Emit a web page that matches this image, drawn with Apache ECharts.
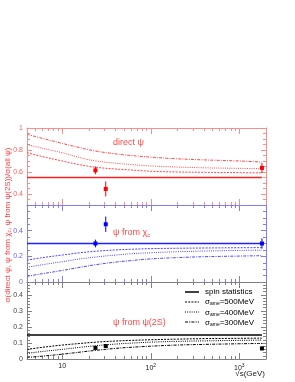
<!DOCTYPE html>
<html><head><meta charset="utf-8">
<script src="https://cdn.jsdelivr.net/npm/echarts@6/dist/echarts.min.js"></script>
<style>html,body{margin:0;padding:0;background:#fff}#c{width:295px;height:382px}</style>
</head><body><div id="c"></div>
<script>
// ---- data ----
const energies = [4, 6, 10, 16, 24, 40, 60, 100, 200, 400, 1000, 1800];
const direct500 = [0.775, 0.74, 0.70, 0.665, 0.643, 0.627, 0.618, 0.607, 0.60, 0.597, 0.594, 0.592];
const direct400 = [0.85, 0.815, 0.775, 0.73, 0.70, 0.68, 0.668, 0.655, 0.645, 0.638, 0.633, 0.63];
const direct300 = [0.943, 0.905, 0.86, 0.82, 0.79, 0.765, 0.75, 0.735, 0.72, 0.71, 0.70, 0.69];
const chic500 = [0.17, 0.19, 0.21, 0.228, 0.24, 0.25, 0.255, 0.26, 0.263, 0.265, 0.267, 0.268];
const chic400 = [0.115, 0.135, 0.158, 0.18, 0.195, 0.21, 0.22, 0.228, 0.236, 0.241, 0.246, 0.248];
const chic300 = [0.045, 0.065, 0.09, 0.115, 0.135, 0.155, 0.167, 0.18, 0.19, 0.197, 0.202, 0.205];
const psi2s500 = [0.06, 0.073, 0.087, 0.097, 0.105, 0.112, 0.116, 0.12, 0.124, 0.127, 0.129, 0.13];
const psi2s400 = [0.035, 0.047, 0.06, 0.073, 0.083, 0.093, 0.099, 0.105, 0.11, 0.113, 0.116, 0.118];
const psi2s300 = [0.01, 0.018, 0.03, 0.043, 0.054, 0.066, 0.073, 0.08, 0.087, 0.091, 0.095, 0.097];
const spinRange = [4, 1800];
const spinDirect = 0.55, spinChic = 0.30, spinPsi2s = 0.15;
const dataEnergy = [23.7, 31, 1800];
const directPts = [0.615, 0.446, 0.637];
const directErr = [0.035, 0.068, 0.045];
const chicPts = [0.30, 0.45, 0.30];
const chicErr = [0.03, 0.06, 0.04];
const psi2sPts = [0.069, 0.081, 0.066];
const psi2sErr = [0.01, 0.01, 0.012];
const xMajor = [10, 100, 1000];
const xMinor = [5,6,7,8,9,20,30,40,50,60,70,80,90,200,300,400,500,600,700,800,900];
const legendNames = ['spin statistics', 'σame=500MeV', 'σame=400MeV', 'σame=300MeV'];

// ---- layout ----
const FONT = 'Liberation Sans, Arial, sans-serif';
const panels = [
  {top:128, min:0.3, max:1.0, step:0.05, labelStep:0.2, showMax:true,
   axisColor:'#ff8c8c', labelColor:'#ff5c5c', lineColor:'#ff2020', curveColor:'#ff4848', ptColor:'#ff0000',
   spin:spinDirect, c:[direct500,direct400,direct300], pts:directPts, err:directErr, tag:'direct'},
  {top:205, min:0, max:0.6, step:0.05, labelStep:0.2, showMax:false,
   axisColor:'#7c7cff', labelColor:'#5c5cff', lineColor:'#2020ff', curveColor:'#4848ff', ptColor:'#0000ff',
   spin:spinChic, c:[chic500,chic400,chic300], pts:chicPts, err:chicErr, tag:'chic'},
  {top:282, min:0, max:0.48, step:0.02, labelStep:0.1, showMax:false,
   axisColor:'#808080', labelColor:'#444', lineColor:'#000', curveColor:'#000', ptColor:'#000',
   spin:spinPsi2s, c:[psi2s500,psi2s400,psi2s300], pts:psi2sPts, err:psi2sErr, tag:'psi2s'}
];
const dashTypes = [[2,1.2],[1,1.2],[3,1.2,1,1.2]];

const grid = [], xAxis = [], yAxis = [], series = [];
panels.forEach((p, gi) => {
  grid.push({left:27, right:29, top:p.top, height:77, containLabel:false});
  const xBase = xAxis.length;
  ['bottom','top'].forEach(pos => {
    [['minor', xMinor, 3], ['major', xMajor, 6]].forEach(([kind, vals, len]) => {
      const lab = gi === 2 && pos === 'bottom' && kind === 'major';
      xAxis.push({
        type:'log', logBase:10, gridIndex:gi, position:pos, min:4, max:2000,
        axisLine:{show:kind==='major', onZero:false, lineStyle:{color:p.axisColor, width:1}},
        axisTick:{show:true, inside:true, length:len, customValues:vals, lineStyle:{color:p.axisColor, width:1}},
        axisLabel:{show:lab, customValues:xMajor, fontSize:7, color:'#222', fontFamily:FONT, margin:4,
          formatter: v => { const e = Math.round(Math.log10(v)); return e === 1 ? '10' : '10{s|' + e + '}'; },
          rich:{s:{fontSize:5, color:'#222', fontFamily:FONT, padding:[0,0,5,0]}}},
        splitLine:{show:false}, minorTick:{show:false}, minorSplitLine:{show:false}
      });
    });
  });
  const yBase = yAxis.length;
  const majors = [];
  for (let v = p.min; v <= p.max + 1e-9; v += p.step) {
    const r = Math.round(v * 1000) / 1000;
    if (Math.abs(r / p.labelStep - Math.round(r / p.labelStep)) < 1e-6 && (p.showMax || Math.abs(r - p.max) > 1e-6)) majors.push(r);
  }
  ['left','right'].forEach(pos => {
    yAxis.push({
      type:'value', gridIndex:gi, position:pos, min:p.min, max:p.max, interval:p.step,
      axisLine:{show:true, onZero:false, lineStyle:{color:p.axisColor, width:1}},
      axisTick:{show:true, inside:true, length:3, lineStyle:{color:p.axisColor}},
      axisLabel:{show:false}, splitLine:{show:false}
    });
    yAxis.push({
      type:'value', gridIndex:gi, position:pos, min:p.min, max:p.max,
      axisLine:{show:false, onZero:false},
      axisTick:{show:true, inside:true, length:5, customValues:majors, lineStyle:{color:p.axisColor}},
      axisLabel:{show:pos==='left', customValues:majors, fontSize:7, color:p.labelColor, fontFamily:FONT, margin:4,
        formatter: v => String(parseFloat((+v).toFixed(3)))},
      splitLine:{show:false}
    });
  });
  const xi = xBase, yi = yBase;
  const isLeg = gi === 2;
  series.push({
    type:'line', name: isLeg ? legendNames[0] : 'spin ' + p.tag, xAxisIndex:xi, yAxisIndex:yi,
    data: spinRange.map(x => [x, p.spin]), symbol:'none', silent:true,
    lineStyle:{color:p.lineColor, width:1.5}, itemStyle:{color:p.lineColor}, z:3
  });
  p.c.forEach((arr, k) => {
    series.push({
      type:'line', name: isLeg ? legendNames[k+1] : p.tag + k, xAxisIndex:xi, yAxisIndex:yi,
      data: energies.map((e, j) => [e, arr[j]]), symbol:'none', smooth:0.4, silent:true,
      lineStyle:{color:p.curveColor, width:1, type:dashTypes[k]}, itemStyle:{color:p.curveColor}, z:2
    });
  });
  series.push({
    type:'custom', name:'err ' + p.tag, xAxisIndex:xi, yAxisIndex:yi, silent:true, z:4,
    data: dataEnergy.map((e, j) => [e, p.pts[j], p.err[j]]),
    renderItem: (params, api) => {
      const x = api.value(0), y = api.value(1), er = api.value(2);
      const lo = api.coord([x, y - er]), hi = api.coord([x, y + er]), c = api.coord([x, y]);
      return {type:'group', children:[
        {type:'line', shape:{x1:c[0], y1:lo[1], x2:c[0], y2:hi[1]}, style:{stroke:p.ptColor, lineWidth:1}},
        {type:'rect', shape:{x:c[0]-2, y:c[1]-2, width:4, height:4}, style:{fill:p.ptColor}}
      ]};
    }
  });
});

// legend line samples (decoration next to the legend text)
const legendSampleStyles = [{lineWidth:1.5}, {lineWidth:1, lineDash:dashTypes[0]}, {lineWidth:1, lineDash:dashTypes[1]}, {lineWidth:1, lineDash:dashTypes[2]}];
const legendSamples = legendSampleStyles.map((s, i) => ({
  type:'line', silent:true, shape:{x1:185, y1:292 + i*10, x2:199, y2:292 + i*10},
  style:Object.assign({stroke:'#000'}, s)
}));

const option = {
  backgroundColor:'#fff', animation:false,
  grid, xAxis, yAxis, series,
  legend: {
    orient:'vertical', left:184, top:288, itemWidth:15, itemHeight:8, itemGap:2, padding:0,
    selectedMode:false, data:legendNames.map(n => ({name:n, icon:'none'})),
    formatter: n => n.startsWith('σame') ? '{g|σ}{s|ame}{t|' + n.slice(4) + '}' : n,
    textStyle:{fontSize:8, color:'#000', fontFamily:FONT, padding:[0,0,0,1],
      rich:{g:{fontSize:8, fontFamily:FONT}, s:{fontSize:5, fontFamily:FONT, padding:[4,0,0,0]}, t:{fontSize:8, fontFamily:FONT}}}
  },
  graphic: legendSamples.concat([
    {type:'text', x:8, y:225, rotation:Math.PI/2, silent:true,
     style:{text:'σ(direct ψ, ψ from χ{s|c}, ψ from ψ(2S))/σ(all ψ)', fill:'#ff4040', font:'8px ' + FONT,
       align:'center', verticalAlign:'middle', rich:{s:{fontSize:5, fill:'#ff4040', fontFamily:FONT, padding:[4,0,0,0]}}}},
    {type:'text', x:113, y:143, silent:true, style:{text:'direct ψ', fill:'#ff4848', font:'9px ' + FONT, verticalAlign:'middle'}},
    {type:'text', x:113, y:233, silent:true, style:{text:'ψ from χ{s|c}', fill:'#ff4848', font:'9px ' + FONT, verticalAlign:'middle',
       rich:{s:{fontSize:6, fill:'#ff4848', fontFamily:FONT, padding:[5,0,0,0]}}}},
    {type:'text', x:113, y:323, silent:true, style:{text:'ψ from ψ(2S)', fill:'#ff4848', font:'9px ' + FONT, verticalAlign:'middle'}},
    {type:'text', x:265, y:374, silent:true, style:{text:'√s(GeV)', fill:'#222', font:'8px ' + FONT, align:'right', verticalAlign:'middle'}}
  ])
};
const chart = echarts.init(document.getElementById('c'), null, {renderer:'canvas'});
chart.setOption(option);
</script>
</body></html>
